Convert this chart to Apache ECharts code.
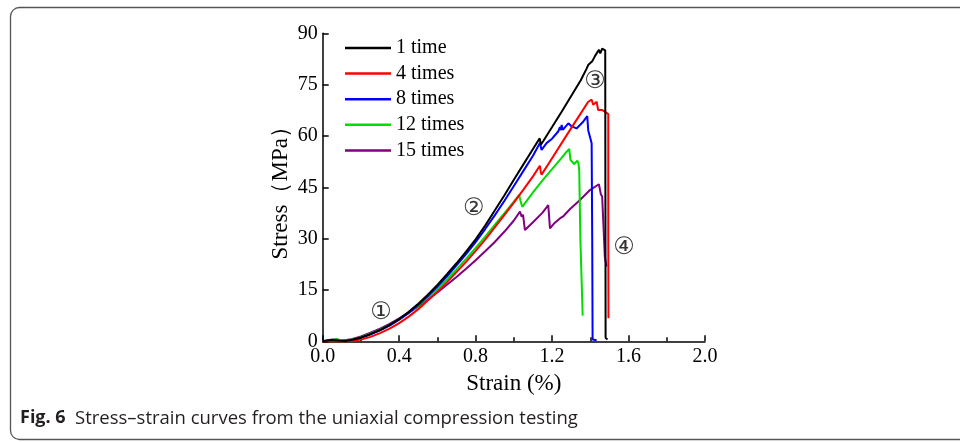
<!DOCTYPE html>
<html>
<head>
<meta charset="utf-8">
<script src="https://cdn.jsdelivr.net/npm/echarts@6/dist/echarts.min.js"></script>
<style>
html,body{margin:0;padding:0;background:#fff;}
#c{width:960px;height:442px;}
</style>
</head>
<body>
<div id="c"></div>
<script>
// ---- data (strain %, stress MPa) ----
const seriesNames = ['1 time', '4 times', '8 times', '12 times', '15 times'];
const xTicks = [0, 0.4, 0.8, 1.2, 1.6, 2.0];
const yTicks = [0, 15, 30, 45, 60, 75, 90];

const time1 = [[0,0],[0.04,0.4],[0.08,0.2],[0.12,0.1],[0.16,0.5],[0.2,1.1],[0.25,2.1],[0.3,3.3],[0.35,4.8],[0.4,6.5],[0.45,8.6],[0.5,11],[0.55,13.6],[0.6,16.5],[0.65,19.6],[0.7,22.8],[0.75,26.2],[0.8,29.8],[0.85,33.8],[0.9,38.2],[0.95,42.6],[1.0,47.2],[1.05,51.7],[1.1,56.2],[1.135,59.3],[1.142,57.5],[1.155,58.6],[1.2,62.6],[1.25,67.1],[1.3,71.7],[1.35,76.3],[1.38,79.6],[1.39,80.8],[1.41,81.8],[1.425,83.4],[1.445,85.2],[1.452,84.1],[1.462,85.5],[1.47,85.2],[1.478,85.0],[1.479,40],[1.48,1.0],[1.49,0.5]];

const times4 = [[0,0],[0.1,0],[0.15,0.1],[0.2,0.5],[0.25,1.3],[0.3,2.4],[0.35,3.7],[0.4,5.3],[0.45,7.2],[0.5,9.4],[0.55,11.9],[0.6,14.5],[0.65,17.3],[0.7,20.2],[0.75,23.2],[0.8,26.4],[0.85,29.7],[0.9,33.3],[0.95,36.9],[1.0,40.5],[1.05,44.3],[1.1,48.2],[1.136,51.3],[1.141,49.5],[1.145,48.7],[1.2,53.5],[1.25,57.9],[1.3,62.3],[1.35,66.6],[1.389,70.0],[1.398,69.5],[1.407,70.6],[1.415,69.1],[1.425,69.6],[1.433,70.0],[1.441,67.6],[1.46,67.6],[1.476,67.1],[1.486,66.6],[1.494,66.4],[1.494,30],[1.495,6.7]];

const times8 = [[0,0],[0.05,0.2],[0.1,0.1],[0.15,0.4],[0.2,1.0],[0.25,2.0],[0.3,3.2],[0.35,4.6],[0.4,6.3],[0.45,8.3],[0.5,10.6],[0.55,13.2],[0.6,16.0],[0.65,19.0],[0.7,22.2],[0.75,25.5],[0.8,29.0],[0.85,32.8],[0.9,36.8],[0.95,41.0],[1.0,45.4],[1.05,49.8],[1.1,54.2],[1.137,58.0],[1.145,55.9],[1.154,56.4],[1.171,57.9],[1.18,57.4],[1.2,59.2],[1.232,61.3],[1.241,62.6],[1.246,61.7],[1.25,63.2],[1.256,61.8],[1.285,63.7],[1.3,62.9],[1.328,62.2],[1.36,64.0],[1.384,65.8],[1.389,61.7],[1.407,57.9],[1.41,30],[1.412,0.5],[1.433,0.3]];

const times12 = [[0,0],[0.04,0.3],[0.07,0.6],[0.1,0.2],[0.15,0.5],[0.2,1.2],[0.25,2.2],[0.3,3.4],[0.35,4.8],[0.4,6.4],[0.45,8.3],[0.5,10.4],[0.55,12.8],[0.6,15.3],[0.65,18.1],[0.7,21.0],[0.75,24.1],[0.8,27.3],[0.85,30.6],[0.9,34.0],[0.95,37.4],[1.0,40.8],[1.028,42.8],[1.035,41],[1.044,39.3],[1.1,43.5],[1.15,47.0],[1.2,50.3],[1.25,53.6],[1.276,55.4],[1.29,56.2],[1.296,53],[1.302,52.5],[1.315,51.8],[1.332,52.8],[1.338,52],[1.342,50],[1.348,30],[1.36,7.5]];

const times15 = [[0,0],[0.05,0.5],[0.08,0.5],[0.1,0.2],[0.15,0.6],[0.2,1.4],[0.25,2.5],[0.3,3.7],[0.35,5.1],[0.4,6.7],[0.45,8.4],[0.5,10.2],[0.55,12.2],[0.6,14.3],[0.65,16.5],[0.7,18.8],[0.75,21.2],[0.8,23.7],[0.85,26.3],[0.9,29.0],[0.95,32.0],[1.0,35.3],[1.032,37.9],[1.041,36.4],[1.048,37.0],[1.058,32.5],[1.1,34.8],[1.15,37.6],[1.18,39.8],[1.189,33.0],[1.21,34.4],[1.241,35.9],[1.26,36.6],[1.293,38.6],[1.346,41.3],[1.398,44.2],[1.445,45.9],[1.455,43],[1.462,42.3],[1.476,24.7],[1.485,21.8]];

const stageLabels = [[0.305,8.2,'①'],[0.79,38.6,'②'],[1.424,75.8,'③'],[1.576,27.2,'④']];

const colors = ['#000000', '#ff0000', '#0000ff', '#00dd00', '#800080'];
const datasets = [time1, times4, times8, times12, times15];

const chart = echarts.init(document.getElementById('c'), null, {renderer: 'canvas'});
const serif = "'Liberation Serif','Times New Roman',serif";

const series = datasets.map((d, i) => ({
  name: seriesNames[i],
  type: 'line',
  data: d,
  showSymbol: false,
  symbol: 'none',
  smooth: false,
  clip: false,
  lineStyle: {color: colors[i], width: 2},
  itemStyle: {color: colors[i]},
  z: 10 - i
}));
series.push({
  name: 'stages',
  type: 'scatter',
  data: stageLabels.map(s => ({value: [s[0], s[1]], label: {formatter: s[2]}})),
  symbolSize: 0,
  silent: true,
  label: {show: true, position: 'inside', fontSize: 24, color: '#000',
          fontFamily: "'DejaVu Serif','DejaVu Sans','Noto Sans CJK SC',serif"},
  z: 20
});

chart.setOption({
  animation: false,
  backgroundColor: '#fff',
  grid: {left: 322.7, right: 255, top: 33.3, bottom: 100.7, containLabel: false},
  legend: {
    data: seriesNames,
    orient: 'vertical',
    left: 345, top: 38,
    padding: 0,
    icon: 'rect',
    itemWidth: 46, itemHeight: 2.5,
    itemGap: 5.6,
    textStyle: {fontFamily: serif, fontSize: 20, color: '#000', lineHeight: 18, padding: [0,0,0,0]}
  },
  xAxis: {
    type: 'value', min: 0, max: 2.0, interval: 0.4,
    name: 'Strain (%)', nameLocation: 'middle', nameGap: 31,
    nameTextStyle: {fontFamily: serif, fontSize: 23, color: '#000'},
    axisLine: {show: true, onZero: false, lineStyle: {color: '#000', width: 1.5}},
    axisTick: {show: true, inside: true, length: 6, lineStyle: {color: '#000', width: 1.5}},
    minorTick: {show: true, splitNumber: 2, length: 4, lineStyle: {color: '#000', width: 1.5}},
    axisLabel: {fontFamily: serif, fontSize: 20, color: '#000', margin: 5,
                formatter: v => v.toFixed(1)},
    splitLine: {show: false}
  },
  yAxis: {
    type: 'value', min: 0, max: 90, interval: 15,
    name: 'Stress（MPa）', nameLocation: 'middle', nameGap: 30,
    nameTextStyle: {fontFamily: serif, fontSize: 23, color: '#000'},
    axisLine: {show: true, onZero: false, lineStyle: {color: '#000', width: 1.5}},
    axisTick: {show: true, inside: true, length: 6, lineStyle: {color: '#000', width: 1.5}},
    axisLabel: {fontFamily: serif, fontSize: 20, color: '#000', margin: 5},
    splitLine: {show: false}
  },
  graphic: [
    {type: 'rect', shape: {x: 10.5, y: 7.5, width: 1000, height: 432, r: 9},
     style: {fill: 'none', stroke: '#555', lineWidth: 1.3}, silent: true, z: -1},
    {type: 'text', left: 20, top: 409,
     style: {text: 'Fig. 6', fontFamily: "'Open Sans','Noto Sans',sans-serif", fontWeight: 'bold', fontSize: 18, fill: '#231f20'}},
    {type: 'text', left: 75, top: 409,
     style: {text: 'Stress–strain curves from the uniaxial compression testing', fontFamily: "'Open Sans','Noto Sans',sans-serif", fontSize: 18.5, fill: '#231f20'}}
  ],
  series: series
});
</script>
</body>
</html>
